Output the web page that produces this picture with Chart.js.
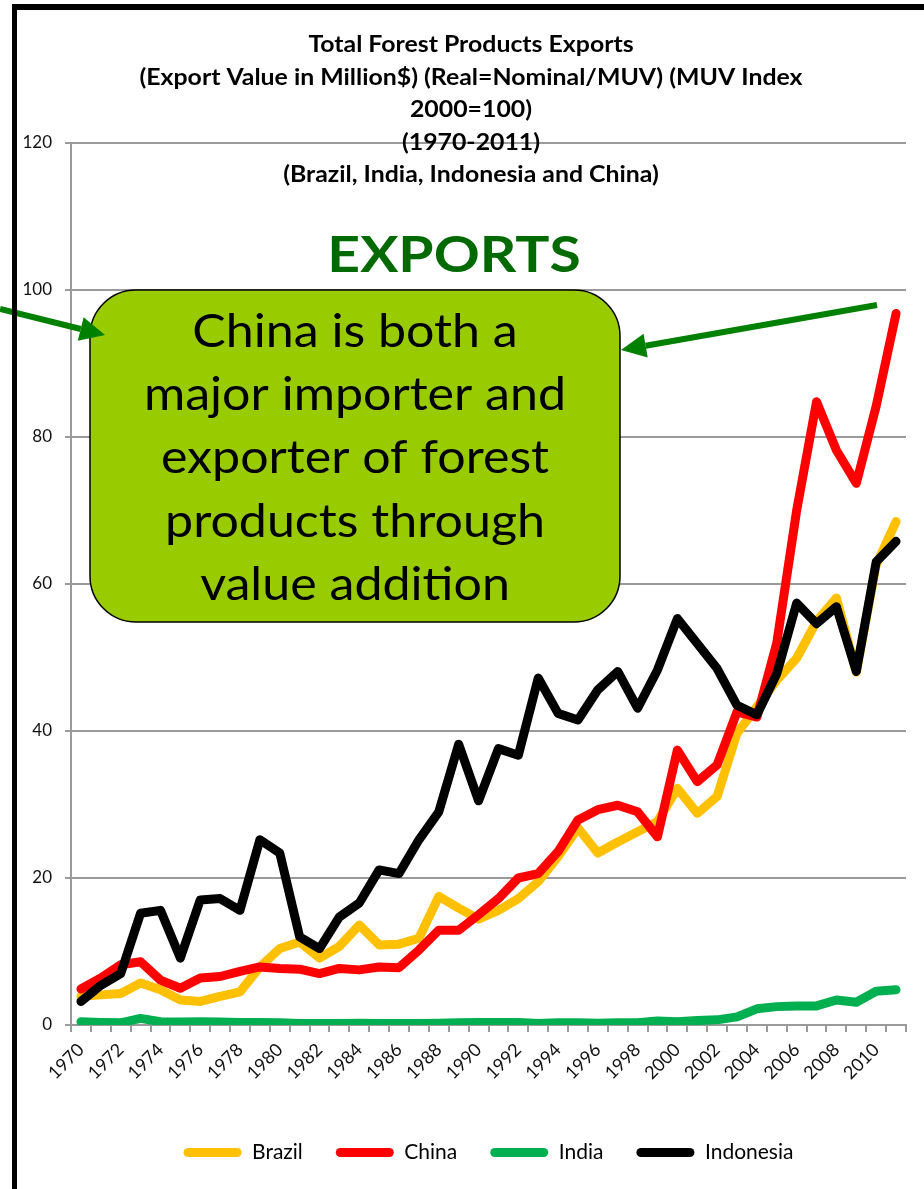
<!DOCTYPE html>
<html>
<head>
<meta charset="utf-8">
<title>Total Forest Products Exports</title>
<script src="https://cdn.jsdelivr.net/npm/chart.js@4.4.1/dist/chart.umd.min.js"></script>
<style>
  html, body { margin: 0; padding: 0; background: #fff; }
  canvas { display: block; }
</style>
</head>
<body>
<canvas id="exportsChart" width="924" height="1189"></canvas>
<script>
// Real export value, million $ (MUV 2000=100)
const years = [];
for (let y = 1970; y <= 2011; y++) years.push(String(y));

const brazil = [3.9, 4.1, 4.3, 5.7, 4.8, 3.4, 3.2, 3.9, 4.5, 7.9, 10.4, 11.3, 9.1, 10.7, 13.6, 10.9, 11.0, 11.8, 17.5, 15.9,
  14.4, 15.6, 17.2, 19.5, 22.9, 26.8, 23.4, 24.9, 26.3, 27.7, 32.2, 28.8, 31.1, 39.7, 43.3, 46.9, 49.9, 54.9, 58.1, 48.0, 62.6, 68.5];
const china = [4.9, 6.4, 8.2, 8.6, 6.1, 5.0, 6.4, 6.6, 7.3, 7.9, 7.7, 7.6, 7.0, 7.7, 7.5, 7.9, 7.8, 10.2, 12.9, 12.9,
  15.0, 17.2, 20.0, 20.6, 23.6, 27.9, 29.3, 29.9, 29.0, 25.6, 37.4, 33.1, 35.4, 42.6, 41.9, 52.0, 70.0, 84.8, 78.2, 73.7, 84.2, 96.8];
const india = [0.45, 0.35, 0.3, 0.9, 0.45, 0.4, 0.45, 0.4, 0.35, 0.35, 0.3, 0.2, 0.2, 0.2, 0.25, 0.2, 0.2, 0.2, 0.25, 0.3,
  0.35, 0.35, 0.35, 0.2, 0.3, 0.3, 0.25, 0.3, 0.3, 0.55, 0.45, 0.6, 0.7, 1.1, 2.2, 2.5, 2.6, 2.6, 3.4, 3.1, 4.6, 4.8];
const indonesia = [3.2, 5.4, 7.0, 15.2, 15.6, 9.1, 17.0, 17.2, 15.6, 25.2, 23.4, 12.0, 10.4, 14.7, 16.6, 21.1, 20.6, 25.2, 29.0, 38.2,
  30.5, 37.6, 36.7, 47.2, 42.4, 41.5, 45.6, 48.1, 43.1, 48.3, 55.3, 51.9, 48.5, 43.5, 42.2, 47.8, 57.4, 54.6, 56.9, 48.1, 63.0, 65.8];

const seriesNames = ['Brazil', 'China', 'India', 'Indonesia'];
const seriesColors = ['#FFC000', '#FF0000', '#00B050', '#000000'];

const titleLines = [
  'Total Forest Products Exports',
  '(Export Value in Million$) (Real=Nominal/MUV) (MUV Index',
  '2000=100)',
  '(1970-2011)',
  '(Brazil, India, Indonesia and China)'
];
const calloutLines = ['China is both a', 'major importer and', 'exporter of forest', 'products through', 'value addition'];

const FONT = 'Lato, "Open Sans", sans-serif';
const GRID = '#9a9a9a';

// centred text, a little wider than the font's own width
function wideText(ctx, text, x, y, stretch) {
  ctx.save();
  ctx.translate(x, y);
  ctx.scale(stretch, 1);
  ctx.fillText(text, 0, 0);
  ctx.restore();
}

function arrow(ctx, x1, y1, x2, y2, color) {
  const a = Math.atan2(y2 - y1, x2 - x1);
  const len = 25, half = 12;
  const bx = x2 - len * Math.cos(a), by = y2 - len * Math.sin(a);
  ctx.strokeStyle = color;
  ctx.fillStyle = color;
  ctx.lineWidth = 6;
  ctx.beginPath();
  ctx.moveTo(x1, y1);
  ctx.lineTo(bx, by);
  ctx.stroke();
  ctx.beginPath();
  ctx.moveTo(x2, y2);
  ctx.lineTo(bx + half * Math.sin(a), by - half * Math.cos(a));
  ctx.lineTo(bx - half * Math.sin(a), by + half * Math.cos(a));
  ctx.closePath();
  ctx.fill();
}

// title, headline, callout box, arrows and frame
const decorations = {
  id: 'decorations',
  afterDraw(chart) {
    const ctx = chart.ctx;
    ctx.save();
    ctx.textAlign = 'center';
    ctx.textBaseline = 'middle';
    ctx.fillStyle = '#000';
    ctx.font = 'bold 23px ' + FONT;
    titleLines.forEach((t, i) => wideText(ctx, t, 471, 45 + i * 32.5, 1.08));

    ctx.fillStyle = '#006a00';
    ctx.font = 'bold 50px ' + FONT;
    wideText(ctx, 'EXPORTS', 454, 256, 1.14);

    // rounded callout
    const bx = 90, by = 290, bw = 530, bh = 332, r = 46;
    ctx.beginPath();
    ctx.moveTo(bx + r, by);
    ctx.arcTo(bx + bw, by, bx + bw, by + bh, r);
    ctx.arcTo(bx + bw, by + bh, bx, by + bh, r);
    ctx.arcTo(bx, by + bh, bx, by, r);
    ctx.arcTo(bx, by, bx + bw, by, r);
    ctx.closePath();
    ctx.fillStyle = '#99CC00';
    ctx.fill();
    ctx.lineWidth = 1.5;
    ctx.strokeStyle = '#000';
    ctx.stroke();

    ctx.fillStyle = '#000';
    ctx.font = '46px ' + FONT;
    calloutLines.forEach((t, i) => wideText(ctx, t, 355, 332 + i * 63.3, 1.09));

    arrow(ctx, 877, 305, 621, 350, '#008000');
    arrow(ctx, 0, 309, 105, 335, '#008000');

    // frame
    ctx.fillStyle = '#000';
    ctx.fillRect(12, 4, 912, 6);
    ctx.fillRect(12, 4, 5, 1185);
    ctx.restore();
  }
};

const datasets = [brazil, china, india, indonesia].map((values, i) => ({
  label: seriesNames[i],
  data: values,
  borderColor: seriesColors[i],
  backgroundColor: seriesColors[i],
  borderWidth: 9,
  borderJoinStyle: 'round',
  borderCapStyle: 'round',
  pointRadius: 0,
  tension: 0,
  order: 4 - i
}));

new Chart(document.getElementById('exportsChart'), {
  type: 'line',
  data: { labels: years, datasets: datasets },
  options: {
    responsive: false,
    animation: false,
    devicePixelRatio: 1,
    layout: { padding: { left: 16, right: 18, top: 143, bottom: 16 } },
    plugins: {
      tooltip: { enabled: false },
      title: { display: false },
      legend: {
        position: 'bottom',
        fullSize: false,
        sort: (a, b) => a.datasetIndex - b.datasetIndex,
        labels: {
          boxWidth: 58,
          boxHeight: 9,
          padding: 33,
          color: '#111',
          font: { family: FONT, size: 21 },
          useBorderRadius: true,
          borderRadius: 4.5,
          generateLabels: chart => chart.data.datasets.map((d, i) => ({
            text: d.label,
            fillStyle: d.borderColor,
            strokeStyle: d.borderColor,
            lineWidth: 0,
            borderRadius: 4.5,
            hidden: false,
            datasetIndex: i
          }))
        }
      }
    },
    scales: {
      x: {
        offset: true,
        afterFit: s => { s.height = 84; },
        grid: { offset: true, drawOnChartArea: false, drawTicks: true, tickLength: 7, color: GRID, lineWidth: 2 },
        border: { color: GRID, width: 2 },
        ticks: {
          autoSkip: false,
          minRotation: 45,
          maxRotation: 45,
          padding: 7,
          color: '#111',
          font: { family: FONT, size: 18 },
          callback: (v, i) => (i % 2 === 0 ? years[i] : '')
        }
      },
      y: {
        min: 0,
        max: 120,
        afterFit: s => { s.width = 55; },
        grid: { color: GRID, lineWidth: 2, tickLength: 6 },
        border: { color: GRID, width: 2 },
        ticks: {
          stepSize: 20,
          padding: 13,
          color: '#111',
          font: { family: FONT, size: 17 }
        }
      }
    }
  },
  plugins: [decorations]
});
</script>
</body>
</html>
